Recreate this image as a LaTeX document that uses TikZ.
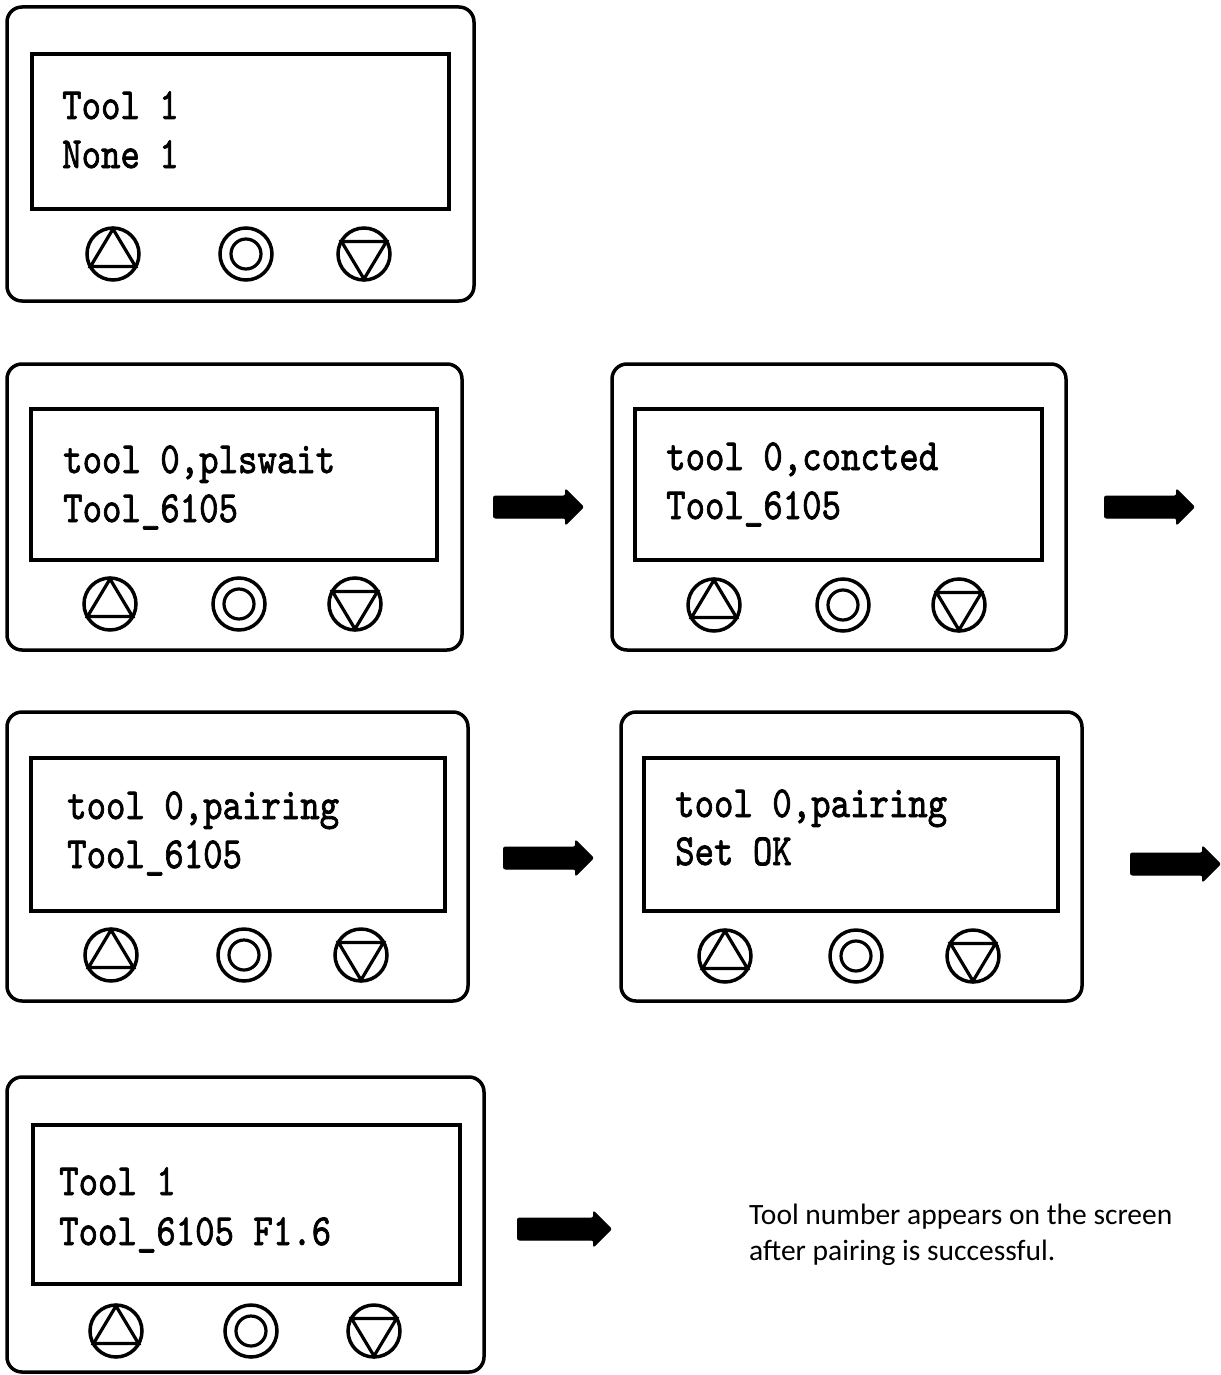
\documentclass[tikz,border=0pt]{standalone}
\usepackage{fontspec}
\usetikzlibrary{shapes.arrows}
\newfontfamily\notefont{Carlito}
\newfontfamily\lcdfont{lmmono10-regular.otf}[FakeBold=1.8]
\newcommand\lcdtxt[1]{\scalebox{1}[1.2]{\lcdfont\fontsize{37}{40}\selectfont #1}}
\newcommand\rectnode[6]{%
  \pgfmathsetmacro\rw{#5-#3}\pgfmathsetmacro\rh{#6-#4}%
  \node[#1, minimum width=\rw pt, minimum height=\rh pt] (#2) at ({(#3+#5)/2},{(#4+#6)/2}) {};}
\newcommand\btnrow[5]{%
  \node[btn] (#1-up) at (#3,#2) {};
  \node[btn] (#1-ok) at (#4,#2) {};
  \node[btn] (#1-dn) at (#5,#2) {};
  \node[inbtn] (#1-okin) at (#4,#2) {};
  \draw[tri] ([shift={(0,-25)}]#1-up.center) -- ([shift={(-22.5,12.5)}]#1-up.center) -- ([shift={(22.5,12.5)}]#1-up.center) -- cycle;
  \draw[tri] ([shift={(0,25)}]#1-dn.center) -- ([shift={(-22.5,-12.5)}]#1-dn.center) -- ([shift={(22.5,-12.5)}]#1-dn.center) -- cycle;
}
\tikzset{
  case/.style={draw, line width=3.5pt, rounded corners=15pt, inner sep=0pt, outer sep=0pt},
  screen/.style={draw, line width=4.5pt, inner sep=0pt, outer sep=0pt},
  btn/.style={circle, draw, line width=3.5pt, minimum size=52pt, inner sep=0pt},
  inbtn/.style={circle, draw, line width=3.2pt, minimum size=30pt, inner sep=0pt},
  tri/.style={line width=3.2pt, line join=miter},
  lcd/.style={anchor=base west, inner sep=0pt},
  bigarrow/.style={single arrow, fill=black, draw=black, line width=1pt, rounded corners=2pt,
    minimum width=34pt, single arrow head extend=7pt, inner xsep=0pt, inner ysep=10.5pt,
    single arrow head indent=0pt},
  note/.style={anchor=base west, inner sep=0pt, font=\notefont\fontsize{29.5}{34}\selectfont}
}
\begin{document}
\begin{tikzpicture}[x=1pt,y=-1pt]
\useasboundingbox (0,0) rectangle (1220,1375);
% device 1
\rectnode{case}{d1}{7}{7}{474}{301}
\rectnode{screen}{s1}{32}{54}{449}{209}
\node[lcd] (t1a) at (62,119) {\lcdtxt{Tool 1}};
\node[lcd] (t1b) at (62,168) {\lcdtxt{None 1}};
\btnrow{b1}{254}{113}{246}{364}
% device 2
\rectnode{case}{d2}{7}{364}{462}{650}
\rectnode{screen}{s2}{31}{409}{437}{560}
\node[lcd] (t2a) at (63,473) {\lcdtxt{tool 0,plswait}};
\node[lcd] (t2b) at (63,522) {\lcdtxt{Tool\_6105}};
\btnrow{b2}{604}{110}{239}{355}
% device 3
\rectnode{case}{d3}{612}{364}{1066}{650}
\rectnode{screen}{s3}{635}{409}{1042}{560}
\node[lcd] (t3a) at (666,470) {\lcdtxt{tool 0,concted}};
\node[lcd] (t3b) at (666,519) {\lcdtxt{Tool\_6105}};
\btnrow{b3}{605}{714}{843}{959}
% device 4
\rectnode{case}{d4}{7}{712}{468}{1001}
\rectnode{screen}{s4}{31}{758}{445}{911}
\node[lcd] (t4a) at (67,819) {\lcdtxt{tool 0,pairing}};
\node[lcd] (t4b) at (67,868) {\lcdtxt{Tool\_6105}};
\btnrow{b4}{955}{111}{244}{361}
% device 5
\rectnode{case}{d5}{621}{712}{1082}{1001}
\rectnode{screen}{s5}{644}{758}{1058}{911}
\node[lcd] (t5a) at (675,817) {\lcdtxt{tool 0,pairing}};
\node[lcd] (t5b) at (675,865) {\lcdtxt{Set OK}};
\btnrow{b5}{956}{725}{856}{973}
% device 6
\rectnode{case}{d6}{7}{1077}{484}{1372}
\rectnode{screen}{s6}{33}{1125}{460}{1284}
\node[lcd] (t6a) at (59,1195) {\lcdtxt{Tool 1}};
\node[lcd] (t6b) at (59,1245) {\lcdtxt{Tool\_6105 F1.6}};
\btnrow{b6}{1331}{116}{251}{374}
% arrows
\node[bigarrow, minimum height=90pt] (a1) at (533,507) {};
\node[bigarrow, minimum height=90pt] (a2) at (1144,507) {};
\node[bigarrow, minimum height=90pt] (a3) at (543,858) {};
\node[bigarrow, minimum height=90pt] (a4) at (1170,864) {};
\node[bigarrow, minimum height=94pt] (a5) at (559,1229) {};
% note
\node[note] (n1) at (749,1224) {Tool number appears on the screen};
\node[note] (n2) at (749,1260) {after pairing is successful.};
\end{tikzpicture}
\end{document}
